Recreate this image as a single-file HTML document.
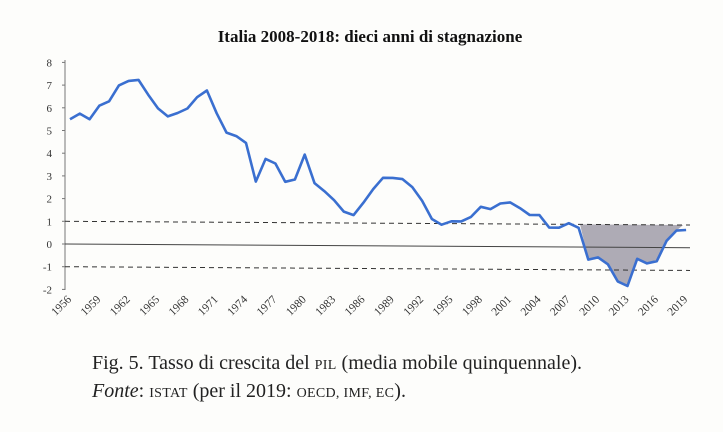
<!DOCTYPE html>
<html><head><meta charset="utf-8"><style>
body{margin:0;width:723px;height:432px;background:#fdfdfb;overflow:hidden;font-family:"Liberation Serif",serif;color:#222}
.cap{position:absolute;left:92px;font-size:20px;white-space:nowrap}
.sc{font-size:14px;letter-spacing:0.3px}
</style></head><body>
<svg id="s" width="723" height="432" style="position:absolute;left:0;top:0" font-family="Liberation Serif, serif"></svg>
<div class="cap" style="top:352px;">Fig. 5. Tasso di crescita del <span class="sc">PIL</span> (media mobile quinquennale).</div>
<div class="cap" style="top:380px;"><i>Fonte</i>: <span class="sc">ISTAT</span> (per il 2019: <span class="sc">OECD, IMF, EC</span>).</div>
<script>
var d=[5.5,5.75,5.5,6.1,6.3,7.0,7.2,7.25,6.6,6.0,
5.65,5.8,6.0,6.5,6.8,5.8,4.95,4.8,4.5,2.8,
3.8,3.6,2.8,2.9,4.0,2.75,2.4,2.0,1.5,1.35,
1.9,2.5,3.0,3.0,2.95,2.6,2.0,1.2,0.95,1.1,
1.1,1.3,1.75,1.65,1.9,1.95,1.7,1.4,1.4,0.85,
0.85,1.05,0.85,-0.55,-0.45,-0.75,-1.5,-1.7,-0.5,-0.7,
-0.6,0.3,0.75,0.78];
function X(i){return 70+i*9.78}
function Y(v,x){return 244-v*22.7+(x-65)*0.006}
var h='';
h+='<text x="370" y="42" text-anchor="middle" font-size="17" font-weight="bold" fill="#111">Italia 2008-2018: dieci anni di stagnazione</text>';
h+='<line x1="65" y1="60" x2="65" y2="290" stroke="#777" stroke-width="1"/>';
for(var v=-2;v<=8;v++){var y=Y(v,65);h+='<text x="52" y="'+(y+4)+'" font-size="11" text-anchor="end" fill="#333">'+v+'</text><line x1="62" y1="'+y+'" x2="65" y2="'+y+'" stroke="#777"/>';}
var x0=X(52.15),x1=X(62.7);
var a='M'+x0+','+Y(1,x0);
for(var i=53;i<=62;i++){var x=X(i);a+=' L'+x+','+Y(d[i],x);}
a+=' L'+x1+','+Y(1,x1)+' Z';
h+='<path d="'+a+'" fill="#aeabb5"/>';
h+='<line x1="65" y1="'+Y(0,65)+'" x2="690" y2="'+Y(0,690)+'" stroke="#444" stroke-width="1"/>';
h+='<line x1="65" y1="'+Y(1,65)+'" x2="690" y2="'+Y(1,690)+'" stroke="#333" stroke-width="1" stroke-dasharray="5,4"/>';
h+='<line x1="65" y1="'+Y(-1,65)+'" x2="690" y2="'+Y(-1,690)+'" stroke="#333" stroke-width="1" stroke-dasharray="5,4"/>';
var p='';
for(var i=0;i<d.length;i++){var x=X(i);p+=(i?' L':'M')+x.toFixed(1)+','+Y(d[i],x).toFixed(1);}
h+='<path d="'+p+'" fill="none" stroke="#3a6fd0" stroke-width="2.6" stroke-linejoin="round"/>';
for(var yr=1956;yr<=2019;yr+=3){var x=X(yr-1956);h+='<text transform="translate('+(x+2)+',300) rotate(-45)" text-anchor="end" font-size="11.5" fill="#333">'+yr+'</text>';}
document.getElementById('s').innerHTML=h;
</script>
</body></html>
